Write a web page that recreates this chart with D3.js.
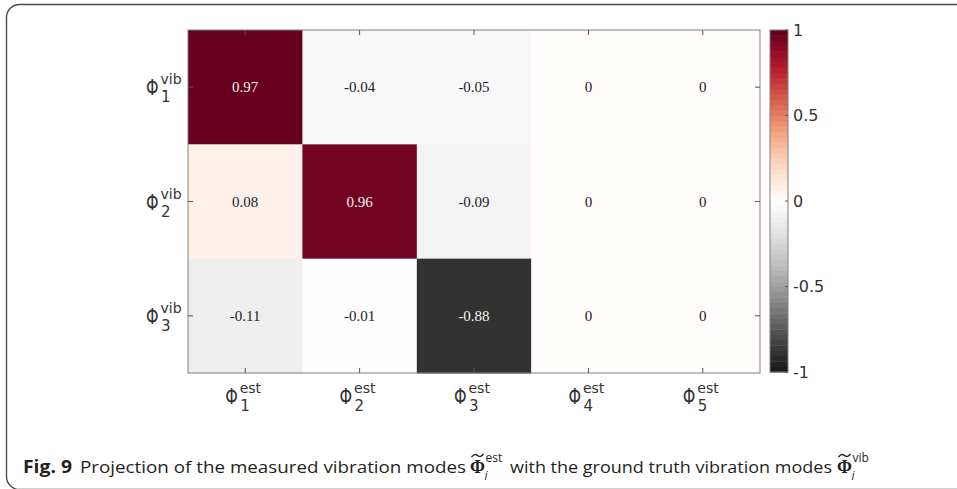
<!DOCTYPE html>
<html>
<head>
<meta charset="utf-8">
<script src="https://cdn.jsdelivr.net/npm/d3@7"></script>
<style>
  html, body { margin: 0; padding: 0; background: #fff; }
  svg { display: block; }
</style>
</head>
<body>
<svg id="fig" width="957" height="489"></svg>
<script>
// Estimated modes (columns) and ground-truth vibration modes (rows)
const estModes = ["1", "2", "3", "4", "5"];
const vibModes = ["1", "2", "3"];

// Projection values, one array per ground-truth mode
const projVib1 = [0.97, -0.04, -0.05, 0, 0];
const projVib2 = [0.08, 0.96, -0.09, 0, 0];
const projVib3 = [-0.11, -0.01, -0.88, 0, 0];

// Colour bar ticks
const cbarTicks = [1, 0.5, 0, -0.5, -1];
const cbarTickLabels = ["1", "0.5", "0", "-0.5", "-1"];

const rowsData = [projVib1, projVib2, projVib3];
const cells = [];
rowsData.forEach((row, r) => row.forEach((v, c) => cells.push({ row: vibModes[r], col: estModes[c], v })));

const svg = d3.select("#fig");

// Figure frame
svg.append("rect")
  .attr("x", 6.5).attr("y", 4.5)
  .attr("width", 1000).attr("height", 485)
  .attr("rx", 13).attr("ry", 13)
  .attr("fill", "none").attr("stroke", "#4a4a4a").attr("stroke-width", 1.4);

const plot = { left: 188, right: 760, top: 30, bottom: 373 };

const x = d3.scaleBand().domain(estModes).range([plot.left, plot.right]);
const y = d3.scaleBand().domain(vibModes).range([plot.top, plot.bottom]);

// 64-level red/grey diverging colormap (linear between RdGy anchors),
// value -1 (near black) .. 1 (dark red)
const rdgy = ["#67001f", "#b2182b", "#d6604d", "#f4a582", "#fddbc7", "#ffffff",
              "#e0e0e0", "#bababa", "#878787", "#4d4d4d", "#1a1a1a"];
const ramp = d3.piecewise(d3.interpolateRgb, rdgy);
const nLevels = 64;
const cmapRow = k => ramp(1 - k / (nLevels - 1));
const levelOf = v => Math.max(0, Math.min(nLevels - 1, Math.floor((v + 1) / 2 * nLevels)));
const colorOf = v => cmapRow(levelOf(v));

// Heatmap cells
svg.append("g").selectAll("rect").data(cells).join("rect")
  .attr("x", d => x(d.col)).attr("y", d => y(d.row))
  .attr("width", x.bandwidth() + 0.5).attr("height", y.bandwidth() + 0.5)
  .attr("fill", d => colorOf(d.v));

// Cell value labels
svg.append("g").selectAll("text").data(cells).join("text")
  .attr("x", d => x(d.col) + x.bandwidth() / 2)
  .attr("y", d => y(d.row) + y.bandwidth() / 2)
  .attr("text-anchor", "middle").attr("dominant-baseline", "central")
  .attr("font-family", "'Liberation Serif', 'DejaVu Serif', serif")
  .attr("font-size", 15)
  .attr("fill", d => Math.abs(d.v) > 0.6 ? "#f2f2f2" : "#222")
  .text(d => String(d.v));

// Axes box
const axisColor = "#808080";
svg.append("rect")
  .attr("x", plot.left).attr("y", plot.top)
  .attr("width", plot.right - plot.left).attr("height", plot.bottom - plot.top)
  .attr("fill", "none").attr("stroke", axisColor).attr("stroke-width", 1);

// Inward ticks on all four sides
const tickLen = 5;
const ticks = svg.append("g").attr("stroke", "#555").attr("stroke-width", 1);
estModes.forEach(c => {
  const cx = x(c) + x.bandwidth() / 2;
  ticks.append("line").attr("x1", cx).attr("x2", cx).attr("y1", plot.bottom).attr("y2", plot.bottom - tickLen);
  ticks.append("line").attr("x1", cx).attr("x2", cx).attr("y1", plot.top).attr("y2", plot.top + tickLen);
});
vibModes.forEach(r => {
  const cy = y(r) + y.bandwidth() / 2;
  ticks.append("line").attr("x1", plot.left).attr("x2", plot.left + tickLen).attr("y1", cy).attr("y2", cy);
  ticks.append("line").attr("x1", plot.right).attr("x2", plot.right - tickLen).attr("y1", cy).attr("y2", cy);
});

// Φ label with superscript and subscript
const labelFont = "'DejaVu Sans', sans-serif";
const labelInk = "#333";
function phiLabel(g, px, base, sup, sub) {
  g.append("text")
    .attr("transform", `translate(${px},${base}) scale(1,1.38)`)
    .attr("font-family", labelFont).attr("font-size", 16).attr("fill", labelInk)
    .text("Φ");
  g.append("text")
    .attr("x", px + 14.5).attr("y", base - 11)
    .attr("font-family", labelFont).attr("font-size", 14).attr("fill", labelInk)
    .text(sup);
  g.append("text")
    .attr("x", px + 15).attr("y", base + 7)
    .attr("font-family", labelFont).attr("font-size", 15).attr("fill", labelInk)
    .text(sub);
}

const xLabels = svg.append("g");
estModes.forEach(c => {
  const cx = x(c) + x.bandwidth() / 2;
  phiLabel(xLabels, cx - 20, 404, "est", c);
});
const yLabels = svg.append("g");
vibModes.forEach(r => {
  const cy = y(r) + y.bandwidth() / 2;
  phiLabel(yLabels, 146, cy + 8, "vib", r);
});

// Colour bar
const cbar = { left: 770, right: 788 };
const cy = d3.scaleLinear().domain([-1, 1]).range([plot.bottom - 1, plot.top]);
const levels = d3.range(nLevels);
svg.append("g").selectAll("rect").data(levels).join("rect")
  .attr("x", cbar.left)
  .attr("y", k => cy(-1 + (k + 1) * 2 / nLevels))
  .attr("width", cbar.right - cbar.left)
  .attr("height", k => cy(-1 + k * 2 / nLevels) - cy(-1 + (k + 1) * 2 / nLevels) + 0.5)
  .attr("fill", k => cmapRow(k));
svg.append("rect")
  .attr("x", cbar.left).attr("y", cy(1))
  .attr("width", cbar.right - cbar.left).attr("height", cy(-1) - cy(1))
  .attr("fill", "none").attr("stroke", axisColor).attr("stroke-width", 1);
const cbTicks = svg.append("g");
cbarTicks.forEach((t, i) => {
  cbTicks.append("line")
    .attr("x1", cbar.right).attr("x2", cbar.right - 3)
    .attr("y1", cy(t)).attr("y2", cy(t))
    .attr("stroke", "#555");
  cbTicks.append("text")
    .attr("x", cbar.right + 5).attr("y", cy(t))
    .attr("dominant-baseline", "central")
    .attr("font-family", labelFont).attr("font-size", 16).attr("fill", labelInk)
    .text(cbarTickLabels[i]);
});

// Caption
const capFont = "'Open Sans', sans-serif";
const capBase = 473;
const cap = svg.append("g").attr("fill", "#231f20");
cap.append("text").attr("x", 23).attr("y", capBase)
  .attr("font-family", capFont).attr("font-weight", "bold").attr("font-size", 18)
  .attr("textLength", 49).attr("lengthAdjust", "spacingAndGlyphs")
  .text("Fig. 9");
cap.append("text").attr("x", 80).attr("y", capBase)
  .attr("font-family", capFont).attr("font-size", 17)
  .attr("textLength", 386).attr("lengthAdjust", "spacingAndGlyphs")
  .text("Projection of the measured vibration modes");
cap.append("text").attr("x", 510).attr("y", capBase)
  .attr("font-family", capFont).attr("font-size", 17)
  .attr("textLength", 322).attr("lengthAdjust", "spacingAndGlyphs")
  .text("with the ground truth vibration modes");

// Bold Φ with a tilde accent, italic subscript i and a superscript
function tildePhi(px, sup) {
  cap.append("text").attr("x", px).attr("y", capBase)
    .attr("font-family", "'Liberation Serif', serif").attr("font-weight", "bold").attr("font-size", 18)
    .text("Φ");
  cap.append("path")
    .attr("d", `M${px + 1.5},${capBase - 16} q3,-4 6,-1.5 t6,-1.5`)
    .attr("fill", "none").attr("stroke", "#231f20").attr("stroke-width", 1.5);
  cap.append("text").attr("x", px + 14.5).attr("y", capBase + 7)
    .attr("font-family", capFont).attr("font-style", "italic").attr("font-size", 12)
    .text("i");
  cap.append("text").attr("x", px + 15.5).attr("y", capBase - 11)
    .attr("font-family", capFont).attr("font-size", 12)
    .text(sup);
}
tildePhi(470, "est");
tildePhi(837, "vib");
</script>
</body>
</html>
